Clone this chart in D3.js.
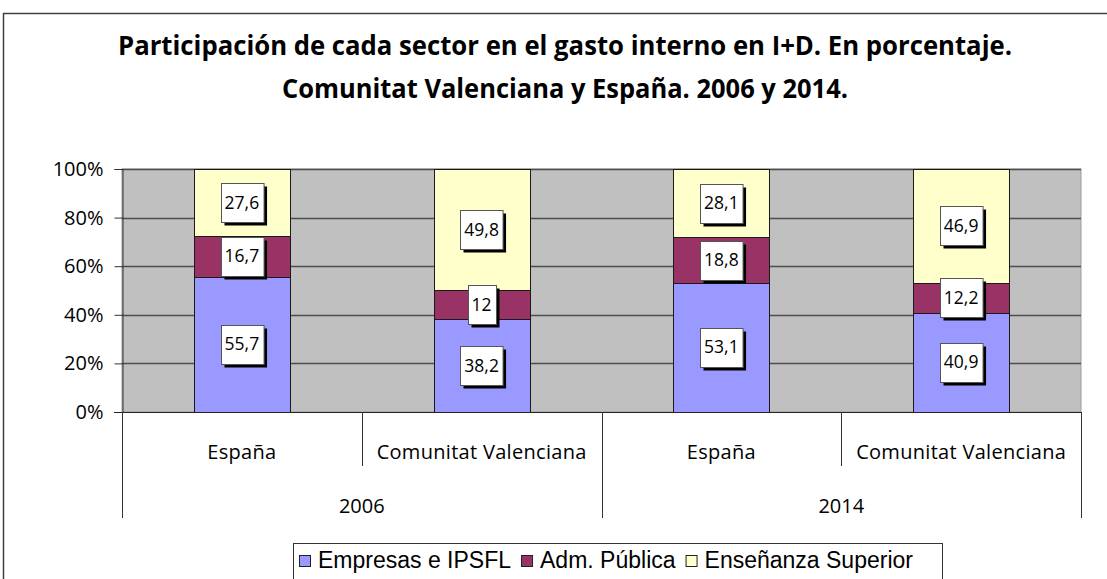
<!DOCTYPE html>
<head>
<meta charset="utf-8">
<style>
body { margin:0; background:#fff; }
text { font-family: "Open Sans", sans-serif; fill:#000; }
.legend text { font-family: "Liberation Sans", Arial, sans-serif; }
</style>
</head>
<body>
<svg width="1107" height="579"></svg>
<script src="https://cdn.jsdelivr.net/npm/d3@7/dist/d3.min.js"></script>
<script>
// data
var categories = ["España", "Comunitat Valenciana", "España", "Comunitat Valenciana"];
var years = ["2006", "2014"];
var seriesNames = ["Empresas e IPSFL", "Adm. Pública", "Enseñanza Superior"];
var empresas = [55.7, 38.2, 53.1, 40.9];
var admPublica = [16.7, 12, 18.8, 12.2];
var ensenanza = [27.6, 49.8, 28.1, 46.9];
var yTicks = [0, 20, 40, 60, 80, 100];
var colors = ["#9999FF", "#993366", "#FFFFCC"];

var svg = d3.select("svg");

// chart frame
svg.append("rect")
  .attr("x", 3.5).attr("y", 13.5)
  .attr("width", 1200).attr("height", 700)
  .attr("fill", "#fff").attr("stroke", "#404040").attr("stroke-width", 1.5);

// title
var title = ["Participación de cada sector en el gasto interno en I+D. En porcentaje.",
             "Comunitat Valenciana y España. 2006 y 2014."];
var titleW = [894, 566];
svg.selectAll(".title").data(title).enter().append("text")
  .attr("class", "title")
  .attr("x", 565)
  .attr("y", function(d, i){ return 55 + i * 43; })
  .attr("text-anchor", "middle")
  .attr("textLength", function(d, i){ return titleW[i]; })
  .attr("lengthAdjust", "spacingAndGlyphs")
  .style("font-size", "26px").style("font-weight", "bold")
  .text(String);

var pLeft = 122, pRight = 1081, pTop = 169, pBottom = 412;

var x = d3.scaleBand().domain(d3.range(categories.length))
  .range([pLeft, pRight]).paddingInner(0.6).paddingOuter(0.3);
var y = d3.scaleLinear().domain([0, 100]).range([pBottom, pTop]);

// plot area
svg.append("rect")
  .attr("x", pLeft).attr("y", pTop)
  .attr("width", pRight - pLeft).attr("height", pBottom - pTop)
  .attr("fill", "#C0C0C0").attr("stroke", "#9a9a9a").attr("stroke-width", 1);

// gridlines
svg.append("g").selectAll("line").data(yTicks.slice(1)).enter().append("line")
  .attr("x1", pLeft).attr("x2", pRight)
  .attr("y1", function(d){ return Math.round(y(d)) + 0.5; })
  .attr("y2", function(d){ return Math.round(y(d)) + 0.5; })
  .attr("stroke", "#4d4d4d").attr("stroke-width", 1.5);

// y axis
var yAxis = d3.axisLeft(y).tickValues(yTicks).tickSize(8).tickPadding(11)
  .tickFormat(function(d){ return d + "%"; });
var ya = svg.append("g").attr("transform", "translate(" + (pLeft + 0.5) + ",0)").call(yAxis);
ya.select(".domain").attr("stroke", "#333");
ya.selectAll(".tick line").attr("stroke", "#333");
ya.selectAll(".tick text").style("font-size", "20px").style("font-family", "Open Sans");

// stacked bars
var stackData = categories.map(function(c, i){
  return { i: i, v: [empresas[i], admPublica[i], ensenanza[i]] };
});
var stack = d3.stack().keys([0, 1, 2]).value(function(d, k){ return d.v[k]; });
var series = stack(stackData);

var bars = svg.append("g");
series.forEach(function(s, k){
  bars.selectAll(".s" + k).data(s).enter().append("rect")
    .attr("x", function(d){ return Math.round(x(d.data.i)) + 0.5; })
    .attr("width", Math.round(x.bandwidth()))
    .attr("y", function(d){ return Math.round(y(d[1])) + 0.5; })
    .attr("height", function(d){ return Math.round(y(d[0])) - Math.round(y(d[1])); })
    .attr("fill", colors[k])
    .attr("stroke", "#1a1a1a").attr("stroke-width", 1);
});

// data labels
var labels = svg.append("g");
series.forEach(function(s, k){
  s.forEach(function(d){
    var cx = x(d.data.i) + x.bandwidth() / 2;
    var cy = y((d[0] + d[1]) / 2);
    var txt = String(d.data.v[k]).replace(".", ",");
    var g = labels.append("g");
    var t = g.append("text").attr("x", cx).attr("y", cy + 6)
      .attr("text-anchor", "middle").style("font-size", "17.5px").text(txt);
    var w = t.node().getComputedTextLength() + 8;
    var h = 39;
    g.insert("rect", "text")
      .attr("x", Math.round(cx - w / 2) + 3.5).attr("y", Math.round(cy - h / 2) + 3.5)
      .attr("width", w).attr("height", h).attr("fill", "#000");
    g.insert("rect", "text")
      .attr("x", Math.round(cx - w / 2) + 0.5).attr("y", Math.round(cy - h / 2) + 0.5)
      .attr("width", w).attr("height", h).attr("fill", "#fff")
      .attr("stroke", "#555").attr("stroke-width", 1);
  });
});

// category axis
var step = x.step();
svg.append("line").attr("x1", 114).attr("x2", pRight)
  .attr("y1", pBottom + 0.5).attr("y2", pBottom + 0.5).attr("stroke", "#222");
var seps = d3.range(categories.length + 1);
svg.append("g").selectAll("line").data(seps).enter().append("line")
  .attr("x1", function(i){ return Math.round(pLeft + i * step) + 0.5; })
  .attr("x2", function(i){ return Math.round(pLeft + i * step) + 0.5; })
  .attr("y1", pBottom)
  .attr("y2", function(i){ return i % 2 === 0 ? 518 : 466; })
  .attr("stroke", "#333");

svg.append("g").selectAll("text").data(categories).enter().append("text")
  .attr("x", function(d, i){ return x(i) + x.bandwidth() / 2; })
  .attr("y", 459)
  .attr("text-anchor", "middle").style("font-size", "20px")
  .style("letter-spacing", "0.3px")
  .text(String);

svg.append("g").selectAll("text").data(years).enter().append("text")
  .attr("x", function(d, i){ return pLeft + step * (2 * i + 1); })
  .attr("y", 513)
  .attr("text-anchor", "middle").style("font-size", "20px")
  .text(String);

// legend
var legend = svg.append("g").attr("class", "legend");
legend.append("rect")
  .attr("x", 293.5).attr("y", 543.5).attr("width", 649).attr("height", 60)
  .attr("fill", "#fff").attr("stroke", "#333").attr("stroke-width", 1);
var lx = 299;
seriesNames.forEach(function(name, k){
  legend.append("rect").attr("x", lx + 0.5).attr("y", 555.5)
    .attr("width", 11).attr("height", 11)
    .attr("fill", colors[k]).attr("stroke", "#222");
  var t = legend.append("text").attr("x", lx + 19).attr("y", 568)
    .style("font-size", "23px").text(name);
  lx += 19 + t.node().getComputedTextLength() + 10;
});
</script>
</body>
